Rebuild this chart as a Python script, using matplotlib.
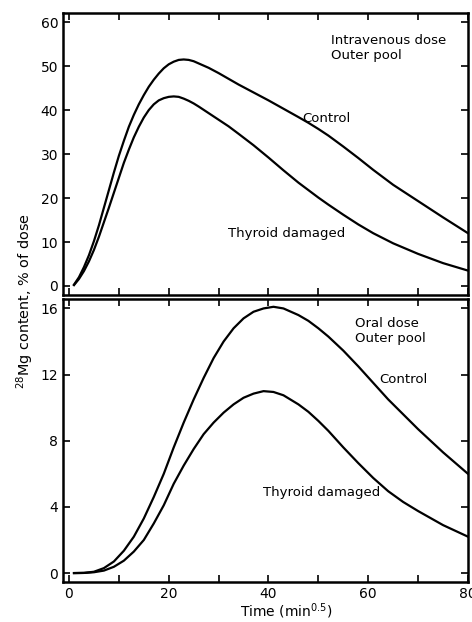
import matplotlib
matplotlib.use("Agg")
import matplotlib.pyplot as plt
from matplotlib.ticker import MultipleLocator

# intravenous dose, outer pool
iv_t = [1, 2, 3, 4, 5, 6, 7, 8, 9, 10, 11, 12, 13, 14, 15, 16, 17, 18, 19, 20, 21, 22, 23, 24, 25, 26, 28, 30, 32, 34, 37, 40, 43, 46, 48, 50, 52, 55, 58, 61, 65, 70, 75, 80]
iv_ctrl = [0.3, 2.0, 4.3, 7.0, 10.2, 13.8, 17.8, 21.8, 25.8, 29.6, 33.0, 36.2, 38.9, 41.3, 43.4, 45.3, 46.9, 48.3, 49.5, 50.4, 51.0, 51.4, 51.5, 51.4, 51.1, 50.6,
           49.6, 48.4, 47.1, 45.8, 44.0, 42.2, 40.3, 38.4, 37.1, 35.7, 34.2, 31.7, 29.1, 26.4, 23.0, 19.3, 15.6, 12.0]
iv_thy = [0.2, 1.6, 3.4, 5.6, 8.2, 11.2, 14.5, 17.8, 21.2, 24.6, 28.0, 31.0, 33.8, 36.2, 38.3, 40.0, 41.3, 42.2, 42.7, 43.0, 43.1, 43.0, 42.6, 42.1, 41.5, 40.8,
          39.3, 37.8, 36.3, 34.6, 32.0, 29.2, 26.3, 23.5, 21.8, 20.1, 18.5, 16.2, 14.0, 12.0, 9.7, 7.3, 5.2, 3.5]

# oral dose, outer pool
or_t = [1, 3, 5, 7, 9, 11, 13, 15, 17, 19, 21, 23, 25, 27, 29, 31, 33, 35, 37, 39, 41, 43, 46, 48, 50, 52, 55, 58, 61, 64, 67, 70, 75, 80]
or_ctrl = [0.0, 0.01, 0.08, 0.3, 0.7, 1.35, 2.2, 3.3, 4.6, 6.0, 7.6, 9.1, 10.5, 11.8, 13.0, 14.0, 14.8, 15.4, 15.8, 16.0, 16.1, 16.0, 15.6, 15.25, 14.8, 14.3,
           13.45, 12.5, 11.5, 10.5, 9.6, 8.7, 7.3, 6.0]
or_thy = [0.0, 0.01, 0.05, 0.15, 0.38, 0.75, 1.3, 2.0, 3.0, 4.1, 5.4, 6.5, 7.5, 8.4, 9.1, 9.7, 10.2, 10.6, 10.85, 11.0, 10.95, 10.75, 10.2, 9.75, 9.2, 8.6,
          7.6, 6.65, 5.75, 4.95, 4.3, 3.75, 2.9, 2.2]

plt.rcParams['font.family'] = 'DejaVu Sans'
fig = plt.figure(figsize=(4.72, 6.22), dpi=100)
ax1 = fig.add_axes([0.1335, 0.5257, 0.858, 0.4533])
ax2 = fig.add_axes([0.1335, 0.0643, 0.858, 0.4547])

for ax in (ax1, ax2):
    ax.set_xlim(-1.2, 80)
    ax.xaxis.set_major_locator(MultipleLocator(20))
    ax.xaxis.set_minor_locator(MultipleLocator(10))
    ax.tick_params(which='both', direction='in', top=True, right=True, labelsize=10, width=1.2, length=5)
    for s in ax.spines.values():
        s.set_linewidth(1.8)

ax1.plot(iv_t, iv_ctrl, color='black', lw=1.6)
ax1.plot(iv_t, iv_thy, color='black', lw=1.6)
ax1.set_ylim(-2.05, 62.05)
ax1.yaxis.set_major_locator(MultipleLocator(10))
ax1.tick_params(labelbottom=False)
ax1.text(52.5, 54.2, 'Intravenous dose\nOuter pool', fontsize=9.5, va='center', linespacing=1.2)
ax1.text(46.8, 38.0, 'Control', fontsize=9.5, va='center')
ax1.text(31.8, 12, 'Thyroid damaged', fontsize=9.5, va='center')

ax2.plot(or_t, or_ctrl, color='black', lw=1.6)
ax2.plot(or_t, or_thy, color='black', lw=1.6)
ax2.set_ylim(-0.54, 16.56)
ax2.yaxis.set_major_locator(MultipleLocator(4))
ax2.text(57.3, 14.65, 'Oral dose\nOuter pool', fontsize=9.5, va='center', linespacing=1.2)
ax2.text(62.3, 11.7, 'Control', fontsize=9.5, va='center')
ax2.text(38.8, 4.9, 'Thyroid damaged', fontsize=9.5, va='center')

fig.text(0.607, 0.017, 'Time (min$^{0.5}$)', ha='center', va='center', fontsize=10)
fig.text(0.053, 0.516, '$^{28}$Mg content, % of dose', rotation=90, ha='center', va='center', fontsize=10.4)

fig.savefig('out.png', dpi=100)
